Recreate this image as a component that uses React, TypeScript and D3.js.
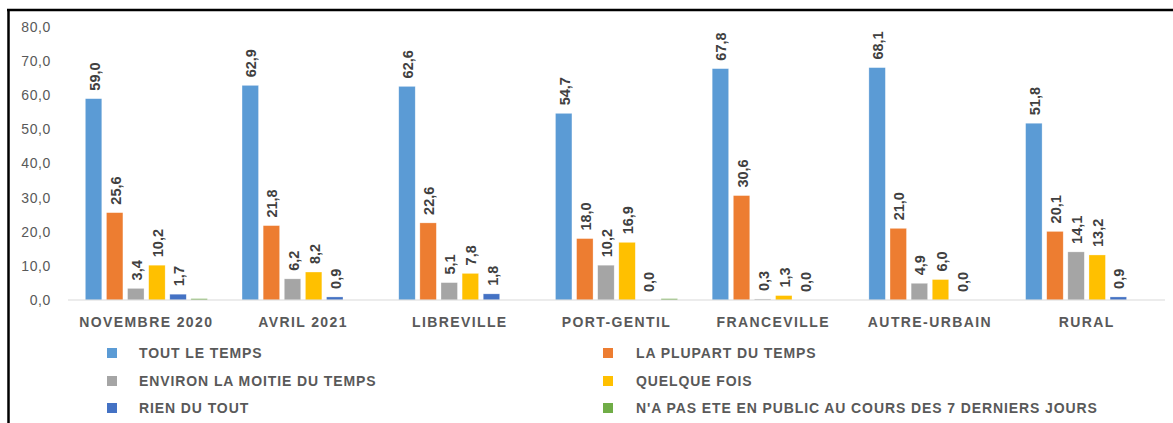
import React from "react";
import * as d3 from "d3";

const categories = ["NOVEMBRE 2020", "AVRIL 2021", "LIBREVILLE", "PORT-GENTIL", "FRANCEVILLE", "AUTRE-URBAIN", "RURAL"];
const seriesNames = [
  "TOUT LE TEMPS",
  "LA PLUPART DU TEMPS",
  "ENVIRON LA MOITIE DU TEMPS",
  "QUELQUE FOIS",
  "RIEN DU TOUT",
  "N'A PAS ETE EN PUBLIC AU COURS DES 7 DERNIERS JOURS",
];
const toutLeTemps = [59.0, 62.9, 62.6, 54.7, 67.8, 68.1, 51.8];
const laPlupart = [25.6, 21.8, 22.6, 18.0, 30.6, 21.0, 20.1];
const environMoitie = [3.4, 6.2, 5.1, 10.2, 0.3, 4.9, 14.1];
const quelqueFois = [10.2, 8.2, 7.8, 16.9, 1.3, 6.0, 13.2];
const rienDuTout = [1.7, 0.9, 1.8, 0.0, 0.0, 0.0, 0.9];
const pasEnPublic = [0.4, 0.0, 0.0, 0.4, 0.0, 0.0, 0.0];
const showLabels = [true, true, true, true, true, false];
const yTicks = [0, 10, 20, 30, 40, 50, 60, 70, 80];
const colors = ["#5B9BD5", "#ED7D31", "#A5A5A5", "#FFC000", "#4472C4", "#70AD47"];

const seriesValues = [toutLeTemps, laPlupart, environMoitie, quelqueFois, rienDuTout, pasEnPublic];

const fmt = (v: number) => v.toFixed(1).replace(".", ",");

export default function App() {
  const W = 1173;
  const H = 423;
  const y = d3.scaleLinear().domain([0, 80]).range([300, 27]);
  const x0 = d3.scaleBand<string>().domain(categories).range([68, 1165]).padding(0);
  const bw = x0.bandwidth();
  const x1 = d3
    .scaleBand<number>()
    .domain(d3.range(seriesNames.length))
    .range([15, bw - 15])
    .paddingInner(0.22)
    .paddingOuter(0.11);
  const font = "'Liberation Sans', Arial, sans-serif";

  const legendCols = [
    { marker: 107, text: 139 },
    { marker: 603, text: 636 },
  ];
  const legendRows = [353, 381, 408];

  return (
    <svg width={W} height={H} style={{ position: "absolute", left: 0, top: 0, background: "#fff" }} fontFamily={font}>
      <rect x={0} y={0} width={W} height={H} fill="#fff" />
      {/* frame */}
      <line x1={8.5} y1={9} x2={8.5} y2={H} stroke="#000" strokeWidth={2.5} />
      <line x1={7} y1={10} x2={W} y2={10} stroke="#000" strokeWidth={2.5} />

      {/* y axis labels */}
      {yTicks.map((t) => (
        <text key={t} x={51} y={y(t)} dy="0.35em" textAnchor="end" fontSize={14} fill="#595959" letterSpacing={0.6}>
          {fmt(t)}
        </text>
      ))}

      {/* bars */}
      {categories.map((c, ci) => (
        <g key={c} transform={`translate(${x0(c)},0)`}>
          {seriesValues.map((vals, si) => {
            const v = vals[ci];
            const bx = x1(si)!;
            const w = x1.bandwidth();
            return (
              <g key={si}>
                <rect x={bx} y={y(v)} width={w} height={y(0) - y(v)} fill={colors[si]} stroke="#fff" strokeOpacity={0.5} strokeWidth={0.6} />
                {showLabels[si] && (
                  <text
                    transform={`translate(${bx + w / 2 + 1},${y(v) - 8}) rotate(-90)`}
                    dy="0.35em"
                    fontSize={14.5}
                    fontWeight="bold"
                    fill="#404040"
                  >
                    {fmt(v)}
                  </text>
                )}
              </g>
            );
          })}
        </g>
      ))}

      {/* baseline */}
      <line x1={68} x2={1165} y1={y(0)} y2={y(0)} stroke="#D9D9D9" strokeWidth={1.2} />

      {/* category labels */}
      {categories.map((c) => (
        <text
          key={c}
          x={x0(c)! + bw / 2}
          y={327}
          textAnchor="middle"
          fontSize={14}
          fontWeight="bold"
          fill="#595959"
          letterSpacing={1.4}
        >
          {c}
        </text>
      ))}

      {/* legend */}
      {seriesNames.map((s, i) => {
        const col = legendCols[i % 2];
        const cy = legendRows[Math.floor(i / 2)];
        return (
          <g key={s}>
            <rect x={col.marker} y={cy - 5} width={10} height={10} fill={colors[i]} />
            <text x={col.text} y={cy} dy="0.35em" fontSize={14} fontWeight="bold" fill="#595959" letterSpacing={0.9}>
              {s}
            </text>
          </g>
        );
      })}
    </svg>
  );
}
